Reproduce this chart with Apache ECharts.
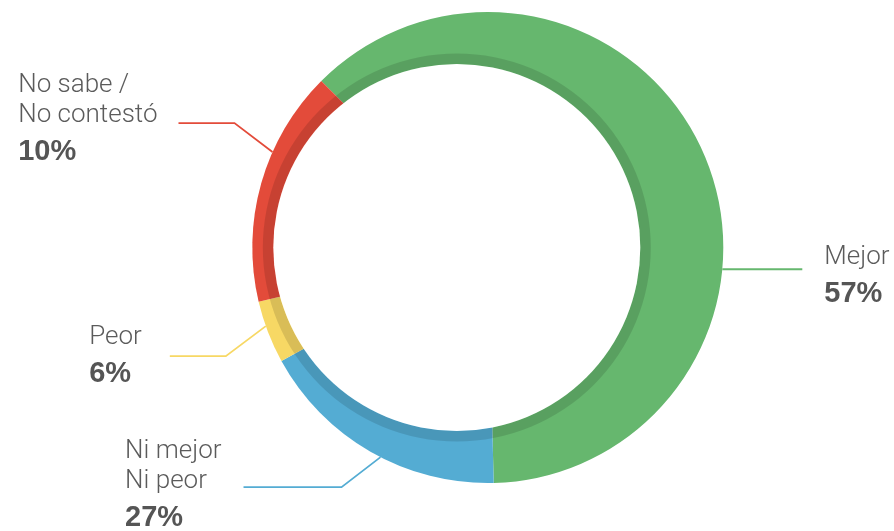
<!DOCTYPE html>
<html>
<head>
<meta charset="utf-8">
<script src="https://cdn.jsdelivr.net/npm/echarts@6/dist/echarts.min.js"></script>
<style>
  html, body { margin: 0; background: #fff; }
  #chart { width: 894px; height: 531px; }
</style>
</head>
<body>
<div id="chart"></div>
<script>
// categories in drawing order, clockwise from the top-left
var categories = ['Mejor', 'Ni mejor\nNi peor', 'Peor', 'No sabe /\nNo contestó']
// percentages printed on the chart
var pctLabels = [57, 27, 6, 10]
// share of the circle each arc really takes in the drawing (measured, %),
// the original artwork does not follow the printed numbers
var arcShare = [62.1, 17.4, 4.3, 16.2]
var colors = ['#66b76e', '#54acd3', '#f7d864', '#e34b3a']

// outer circle and the white hole, which sits off centre to the left
var CX = 487.8, CY = 247.5, R = 235.5
var HOLE_X = 456.8, HOLE_Y = 247.5, HOLE_R = 183.5

// leader lines: anchor angle on the rim, elbow offset, horizontal run, gap to text, text shift
var leaders = [
  { angle: -5.3, elbow: [0, 0], run: 80, gap: 22, dy: 10 },
  { angle: 242.9, elbow: [-39, 30], run: 98, gap: 22, dy: 1 },
  { angle: 199.5, elbow: [-40, 30], run: 56, gap: 28, dy: 3 },
  { angle: 156.1, elbow: [-38, -29], run: 56, gap: 21, dy: -1 }
]

var chart = echarts.init(document.getElementById('chart'))

var option = {
  animation: false,
  series: [
    {
      type: 'pie',
      center: [CX, CY],
      radius: [0, R],
      startAngle: 135,
      clockwise: true,
      avoidLabelOverlap: false,
      silent: true,
      data: categories.map(function (name, i) {
        return { name: name, value: arcShare[i], pct: pctLabels[i], itemStyle: { color: colors[i] } }
      }),
      itemStyle: { borderWidth: 0 },
      label: {
        show: true,
        position: 'outside',
        overflow: 'none',
        formatter: function (p) {
          var lines = p.name.split('\n').map(function (s) { return '{name|' + s + '}' })
          lines.push('{pct|' + p.data.pct + '%}')
          return lines.join('\n')
        },
        rich: {
          // lines sit flush left inside the block, whichever side the block is on
          name: { align: 'left', fontFamily: 'Roboto', fontWeight: 300, fontSize: 26, lineHeight: 30, color: '#5b5b5b' },
          pct: { align: 'left', fontFamily: 'Liberation Sans', fontWeight: 'bold', fontSize: 29, lineHeight: 44, color: '#555555' }
        }
      },
      labelLine: {
        show: true,
        smooth: false,
        lineStyle: { width: 1.8 }
      },
      labelLayout: function (p) {
        var l = leaders[p.dataIndex]
        var a = l.angle * Math.PI / 180
        var x1 = CX + R * Math.cos(a), y1 = CY - R * Math.sin(a)
        var x2 = x1 + l.elbow[0], y2 = y1 + l.elbow[1]
        var dir = x2 < CX ? -1 : 1
        var x3 = x2 + dir * l.run
        return {
          x: x3 + dir * l.gap,
          y: y2 + l.dy,
          align: dir < 0 ? 'right' : 'left',
          verticalAlign: 'middle',
          labelLinePoints: [[x1, y1], [x2, y2], [x3, y2]]
        }
      }
    }
  ],
  // darker inner rim and the white hole on top of the pie
  graphic: [
    {
      type: 'ring', z: 10, silent: true,
      shape: { cx: HOLE_X, cy: HOLE_Y, r: HOLE_R + 10.5, r0: HOLE_R },
      style: { fill: 'rgba(0,0,0,0.12)' }
    },
    {
      type: 'circle', z: 10, silent: true,
      shape: { cx: HOLE_X, cy: HOLE_Y, r: HOLE_R },
      style: { fill: '#ffffff' }
    }
  ]
}

chart.setOption(option)
window.addEventListener('resize', function () {
  chart.resize()
})
</script>
</body>
</html>
